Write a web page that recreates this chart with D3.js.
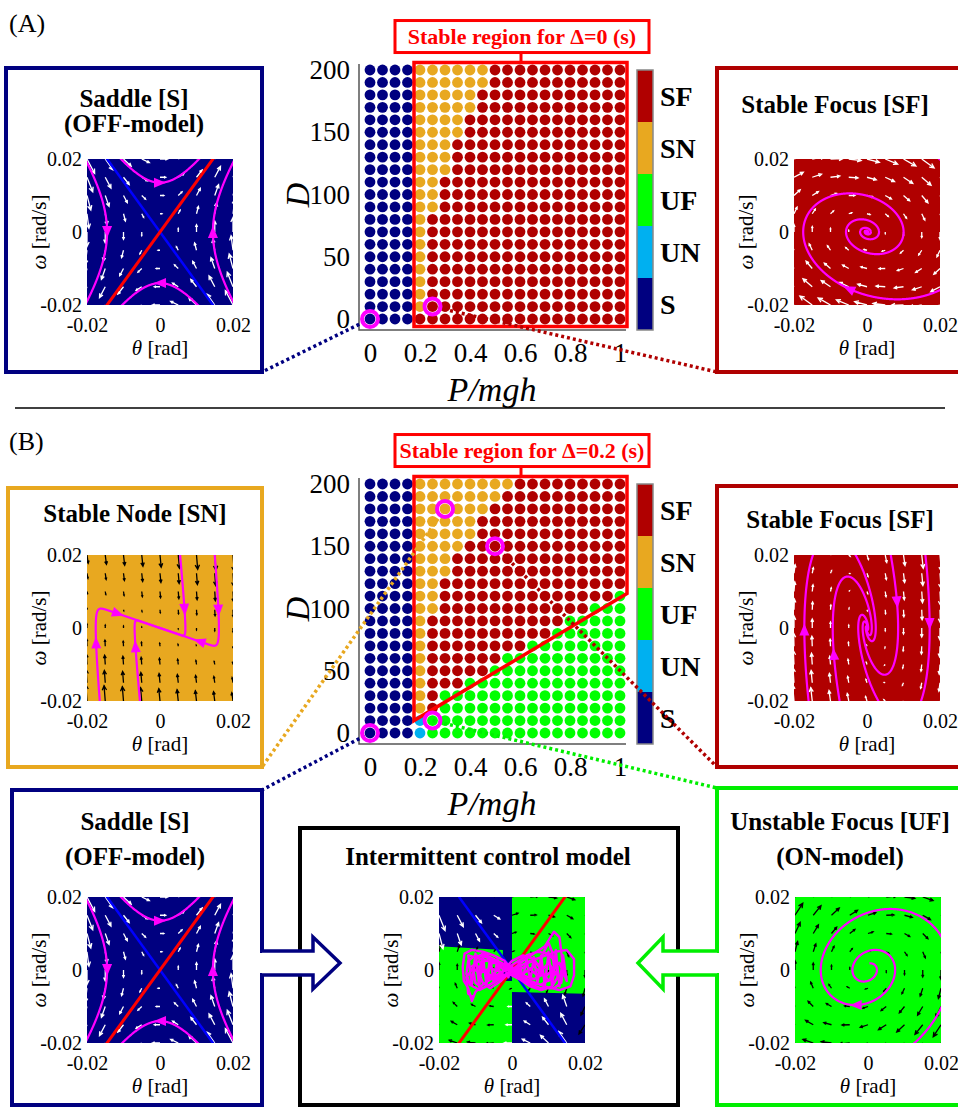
<!DOCTYPE html>
<html lang="en">
<head>
<meta charset="UTF-8" />
<title>Stability regions of the intermittent control model</title>
<script src="https://d3js.org/d3.v7.min.js"></script>
<style>
  body { margin: 0; background: #fff; }
</style>
</head>
<body>
<script>
var w = 958, h = 1109;
var serif = '"Liberation Serif", "Times New Roman", serif';

// ---- stability maps: rows go from D=200 (top) down to D=0, columns P/mgh = 0 ... 1
var pValues = [0, 0.05, 0.1, 0.15, 0.2, 0.25, 0.3, 0.35, 0.4, 0.45, 0.5,
               0.55, 0.6, 0.65, 0.7, 0.75, 0.8, 0.85, 0.9, 0.95, 1];
var dValues = [200, 190, 180, 170, 160, 150, 140, 130, 120, 110, 100,
               90, 80, 70, 60, 50, 40, 30, 20, 10, 0];
// S = saddle, V = unstable node, U = unstable focus, N = stable node, F = stable focus
var typeCodes = ["S", "V", "U", "N", "F"];
var typeLabels = ["S", "UN", "UF", "SN", "SF"];
var typeColors = ["#000080", "#00b0f0", "#00ff00", "#e8a820", "#b00000"];

var mapA = [
  "SSSSNNNNNNFFFFFFFFFFF",
  "SSSSNNNNNNFFFFFFFFFFF",
  "SSSSNNNNNFFFFFFFFFFFF",
  "SSSSNNNNNFFFFFFFFFFFF",
  "SSSSNNNNFFFFFFFFFFFFF",
  "SSSSNNNNFFFFFFFFFFFFF",
  "SSSSNNNFFFFFFFFFFFFFF",
  "SSSSNNNFFFFFFFFFFFFFF",
  "SSSSNNNFFFFFFFFFFFFFF",
  "SSSSNNFFFFFFFFFFFFFFF",
  "SSSSNNFFFFFFFFFFFFFFF",
  "SSSSNNFFFFFFFFFFFFFFF",
  "SSSSNFFFFFFFFFFFFFFFF",
  "SSSSNFFFFFFFFFFFFFFFF",
  "SSSSNFFFFFFFFFFFFFFFF",
  "SSSSNFFFFFFFFFFFFFFFF",
  "SSSSNFFFFFFFFFFFFFFFF",
  "SSSSNFFFFFFFFFFFFFFFF",
  "SSSSNFFFFFFFFFFFFFFFF",
  "SSSSNFFFFFFFFFFFFFFFF",
  "SSSSFFFFFFFFFFFFFFFFF"
];
var mapB = [
  "SSSSNNNNNNNNFFFFFFFFF",
  "SSSSNNNNNNNFFFFFFFFFF",
  "SSSSNNNNNNFFFFFFFFFFF",
  "SSSSNNNNNFFFFFFFFFFFF",
  "SSSSNNNNNFFFFFFFFFFFF",
  "SSSSNNNNFFFFFFFFFFFFF",
  "SSSSNNNFFFFFFFFFFFFFF",
  "SSSSNNNFFFFFFFFFFFFFF",
  "SSSSNNFFFFFFFFFFFFFFF",
  "SSSSNNFFFFFFFFFFFFFFU",
  "SSSSNNFFFFFFFFFFFFUUU",
  "SSSSNFFFFFFFFFFFUUUUU",
  "SSSSNFFFFFFFFFFUUUUUU",
  "SSSSNFFFFFFFFUUUUUUUU",
  "SSSSNFFFFFFUUUUUUUUUU",
  "SSSSNFFFFFUUUUUUUUUUU",
  "SSSSNFFFUUUUUUUUUUUUU",
  "SSSSNFUUUUUUUUUUUUUUU",
  "SSSSNFUUUUUUUUUUUUUUU",
  "SSSSVUUUUUUUUUUUUUUUU",
  "SSSSVUUUUUUUUUUUUUUUU"
];
var pTicks = [0, 0.2, 0.4, 0.6, 0.8, 1];
var pTickLabels = ["0", "0.2", "0.4", "0.6", "0.8", "1"];
var dTicks = [0, 50, 100, 150, 200];
var dTickLabels = ["0", "50", "100", "150", "200"];
// outlines of the stable regions, [P/mgh, D]
var stableA = [[0.176, -6], [0.176, 206], [1.028, 206], [1.028, -6]];
var stableB = [[0.176, 10], [0.176, 206], [1.028, 206], [1.028, 112]];
var ringsA = [[0, 0], [0.25, 10]];
var ringsB = [[0, 0], [0.25, 10], [0.3, 180], [0.5, 150]];

// ---- phase portraits: linear systems d/dt [theta, omega] = M [theta, omega]
var saddleM = [[0, 1], [1.9, 0]];
var focusAM = [[0, 1], [-0.6, -0.27]];
var nodeBM = [[0, 1], [-3.4, -10.34]];
var focusBM = [[0, 1], [-8, -3]];
var onM = [[0, 1], [-0.9, 0.33]];
var manifoldSlopes = [1.378, -1.378];   // unstable (red), stable (blue)
var phaseTicks = [-0.02, 0, 0.02];
var phaseTickLabels = ["-0.02", "0", "0.02"];
var quiverGrid = [-0.02, -0.015, -0.01, -0.005, 0, 0.005, 0.01, 0.015, 0.02];

// trajectory starting points [theta, omega] and where the arrow heads sit
var saddleStarts = [[0, 0.0135], [0, -0.014], [-0.0145, 0], [0.0145, 0]];
var saddleHeads = [[0, 0.0135], [0, -0.014], [-0.0145, 0], [0.0145, 0]];
var focusAStarts = [[0.0186, 0.021]];
var focusAHeads = [[-0.005, -0.0155]];
var nodeBStarts = [[0.0055, 0.02], [0.015, 0.02], [-0.0055, -0.02], [-0.0165, -0.02]];
var nodeBHeads = [[0.0065, 0.005], [0.0165, 0.005], [-0.0175, -0.004], [-0.0075, -0.005],
                  [-0.0115, 0.0038], [0.0105, -0.0045]];
var focusBStarts = [[0.016, 0.02], [0.0065, 0.02], [-0.016, -0.02], [-0.0075, -0.02]];
var focusBHeads = [[0.0168, 0.001], [0.0069, 0.0069], [-0.0166, -0.0007], [-0.0072, -0.0072]];
var onStarts = [[0.0004, 0.0018]];
var onHeads = [[-0.0033, -0.0127]];

// intermittent model (values in mrad, mrad/s): OFF regions and the traced trajectory
var offTopLeft = [[-20, 20], [0, 20], [0, -3], [-2.5, -3], [-2.5, 5.5], [-20, 6.5]];
var offBottomRight = [[0, -20], [20, -20], [20, -6.5], [0, -6]];
var icTrace = [
  [0, 0], [-2, 2.5], [-5, 4], [-8, 5], [-11, 5.5], [-13, 4.5], [-13.5, 1], [-13.2, -3], [-12, -5],
  [-11, -8.5], [-10, -6], [-8, -4], [-5, -2], [-2, 0], [1, 2], [4, 4], [7, 5], [10, 4.5], [12, 2],
  [12.5, -2], [11, -4.5], [8, -5.5], [5, -4.5], [2, -2.5], [-1, -1], [-4, 1.5], [-7, 3.5], [-10, 4],
  [-12, 2.5], [-12.5, -1], [-11.5, -4], [-9, -5.5], [-6, -4], [-3, -2], [0, 0], [3, 2.5], [6, 4.5],
  [9, 6.5], [11.5, 10.5], [13, 9], [13.5, 5], [14, 0], [13.5, -3.5], [11.5, -5], [8, -5], [4, -3.5],
  [1, -1.5], [-2, 1], [-5, 3], [-8, 4.5], [-10, 3], [-10.5, -0.5], [-10, -3.5], [-8, -5], [-5, -3.5],
  [-2, -1.5], [1, 0.5], [4, 2], [8, 3.5], [12, 5], [15, 5.5], [17, 3], [17, -1.5], [16, -4.5],
  [13, -5.5], [9, -4.5], [5, -3], [2, -1.5], [-1, 0], [-3, 2], [-6, 3], [-8.5, 2], [-9, -1],
  [-8, -3.5], [-6, -5], [-3, -3], [-1, -1], [2, 1], [5, 2.5], [8, 3.5], [10, 7.5], [11, 5],
  [11.5, 1], [10.5, -2.5], [8, -4], [5, -3.5], [2, -2], [0, 0], [-2, 1.5], [-4, 2.5], [-6, 1.5],
  [-6.5, -1], [-5, -2.5], [-2, -1.5], [0, 0], [3, 1.5], [6, 2.5], [8, 1], [8, -1.5], [6, -2.5],
  [3, -1.5], [0, 0.5], [-12, 4], [-11, -4], [-10, 4.5], [-9, -4.5], [-8, 4], [-7, -4], [-6, 3.5],
  [-5, -3.5], [-4, 3], [-3, -3], [-2, 2], [-1, -2], [0, 1], [1, -1.5], [2, 2.5], [3, -2.5], [4, 3],
  [5, -3], [6, 3.5], [7, -3.5], [8, 4], [9, -4.5], [10, 5], [11, -5], [12, 5.5], [13, -4.5], [14, 4],
  [15, -3], [13, 2], [9, -2], [6, 1], [3, -1], [1, 0.5], [-3, -0.5], [-6, 0.5], [-9, -1], [-11, 1],
  [-9, 2.5], [-6, -2.5], [-3, 1.5], [0, -0.5], [4, 1], [7, -1.5], [10, 2], [12, -1], [10, -3],
  [6, 3], [3, 4], [0, 2.5], [-4, -2], [-7, -1], [-10, 1.5], [-12.5, -2], [-12, -6.5], [-10.5, -7.5]
];

var svg = d3.select("body").append("svg")
  .attr("width", w).attr("height", h)
  .attr("font-family", serif);

function field(M) {
  return function (th, om) {
    return [M[0][0] * th + M[0][1] * om, M[1][0] * th + M[1][1] * om];
  };
}

// RK4 integration of a linear system, stops once well outside the plot
function simulate(M, p0, tEnd) {
  var f = field(M), dt = tEnd < 0 ? -0.005 : 0.005;
  var n = Math.round(Math.abs(tEnd) / 0.005), p = p0.slice(), out = [p0.slice()];
  for (var i = 0; i < n; i++) {
    var k1 = f(p[0], p[1]);
    var k2 = f(p[0] + dt / 2 * k1[0], p[1] + dt / 2 * k1[1]);
    var k3 = f(p[0] + dt / 2 * k2[0], p[1] + dt / 2 * k2[1]);
    var k4 = f(p[0] + dt * k3[0], p[1] + dt * k3[1]);
    p = [p[0] + dt / 6 * (k1[0] + 2 * k2[0] + 2 * k3[0] + k4[0]),
         p[1] + dt / 6 * (k1[1] + 2 * k2[1] + 2 * k3[1] + k4[1])];
    out.push(p);
    if (Math.abs(p[0]) > 0.06 || Math.abs(p[1]) > 0.06) break;
  }
  return out;
}

function trajectory(M, p0, back, fwd) {
  var b = back > 0 ? simulate(M, p0, -back).reverse() : [];
  return b.concat(simulate(M, p0, fwd));
}

// ---------------- stability maps ----------------
function stabilityMap(rows, stable, dy, label) {
  var g = svg.append("g");
  var x = d3.scaleLinear().domain([0, 1]).range([370, 620]);
  var y = d3.scaleLinear().domain([0, 200]).range([319 + dy, 70 + dy]);

  g.append("path")
    .attr("d", "M359," + (64 + dy) + "V" + (330 + dy) + "H626")
    .attr("fill", "none").attr("stroke", "#555").attr("stroke-width", 1.5);

  var cells = [];
  rows.forEach(function (row, i) {
    row.split("").forEach(function (c, j) {
      cells.push({ p: pValues[j], d: dValues[i], c: c });
    });
  });
  g.selectAll("circle.dot").data(cells).enter().append("circle")
    .attr("class", "dot")
    .attr("cx", function (d) { return x(d.p); })
    .attr("cy", function (d) { return y(d.d); })
    .attr("r", 5.4)
    .attr("fill", function (d) { return typeColors[typeCodes.indexOf(d.c)]; });

  g.append("path")
    .attr("d", d3.line().x(function (d) { return x(d[0]); }).y(function (d) { return y(d[1]); })(stable) + "Z")
    .attr("fill", "none").attr("stroke", "#ff0000").attr("stroke-width", 3.5);

  // label box on top of the region
  var top = y(stable[1][1]);
  g.append("line").attr("x1", 521).attr("x2", 521).attr("y1", top - 12).attr("y2", top)
    .attr("stroke", "#ff0000").attr("stroke-width", 3);
  g.append("rect").attr("x", 395).attr("y", top - 42).attr("width", 254).attr("height", 32)
    .attr("fill", "#fff").attr("stroke", "#ff0000").attr("stroke-width", 3);
  g.append("text").attr("x", 522).attr("y", top - 19).attr("text-anchor", "middle")
    .attr("font-size", 22).attr("font-weight", "bold").attr("fill", "#ff0000").text(label);

  var xa = g.append("g").attr("transform", "translate(0," + (330 + dy) + ")")
    .call(d3.axisBottom(x).tickValues(pTicks).tickSize(0).tickPadding(13)
      .tickFormat(function (d, i) { return pTickLabels[i]; }));
  var ya = g.append("g").attr("transform", "translate(359,0)")
    .call(d3.axisLeft(y).tickValues(dTicks).tickSize(0).tickPadding(9)
      .tickFormat(function (d, i) { return dTickLabels[i]; }));
  [xa, ya].forEach(function (a) {
    a.attr("font-family", serif).attr("font-size", 27);
    a.select(".domain").remove();
    a.selectAll("text").attr("fill", "#000");
  });

  g.append("text").attr("x", 492).attr("y", 401 + dy).attr("text-anchor", "middle")
    .attr("font-size", 34).attr("font-style", "italic").text("P/mgh");
  g.append("text").attr("transform", "translate(297," + (195 + dy) + ") rotate(-90)")
    .attr("text-anchor", "middle").attr("dy", "0.35em")
    .attr("font-size", 34).attr("font-style", "italic").text("D");

  // colour bar, top to bottom SF ... S
  var order = typeLabels.slice().reverse();
  var cb = d3.scaleBand().domain(order).range([70 + dy, 330 + dy]);
  g.selectAll("rect.cb").data(order).enter().append("rect")
    .attr("x", 637).attr("width", 16)
    .attr("y", function (d) { return cb(d); }).attr("height", cb.bandwidth())
    .attr("fill", function (d) { return typeColors[typeLabels.indexOf(d)]; });
  g.append("rect").attr("x", 637).attr("y", 70 + dy).attr("width", 16).attr("height", 260)
    .attr("fill", "none").attr("stroke", "#888").attr("stroke-width", 1.5);
  g.selectAll("text.cb").data(order).enter().append("text")
    .attr("x", 660).attr("y", function (d) { return cb(d) + cb.bandwidth() / 2; })
    .attr("dy", "0.35em").attr("font-size", 28).attr("font-weight", "bold").text(function (d) { return d; });

  return { x: x, y: y };
}

function connector(sc, pt, corner, color) {
  svg.append("line")
    .attr("x1", sc.x(pt[0])).attr("y1", sc.y(pt[1]))
    .attr("x2", corner[0]).attr("y2", corner[1])
    .attr("stroke", color).attr("stroke-width", 3.5).attr("stroke-dasharray", "3 3");
}

function rings(sc, pts) {
  svg.selectAll(null).data(pts).enter().append("circle")
    .attr("cx", function (d) { return sc.x(d[0]); })
    .attr("cy", function (d) { return sc.y(d[1]); })
    .attr("r", 8).attr("fill", "none").attr("stroke", "#ff00ff").attr("stroke-width", 4);
}

// ---------------- phase portraits ----------------
var clipCount = 0;
function phasePanel(cfg) {
  var g = svg.append("g");
  var b = cfg.box;
  g.append("rect").attr("x", b[0]).attr("y", b[1]).attr("width", b[2] - b[0]).attr("height", b[3] - b[1])
    .attr("fill", "none").attr("stroke", cfg.color).attr("stroke-width", 4);
  cfg.titles.forEach(function (t) {
    g.append("text").attr("x", cfg.cx).attr("y", t[1]).attr("text-anchor", "middle")
      .attr("font-size", 25).attr("font-weight", "bold").text(t[0]);
  });

  var x0 = cfg.plot[0], y0 = cfg.plot[1], s = 146;
  var x = d3.scaleLinear().domain([-0.02, 0.02]).range([x0, x0 + s]);
  var y = d3.scaleLinear().domain([-0.02, 0.02]).range([y0 + s, y0]);
  var id = "clip" + (clipCount++);
  g.append("clipPath").attr("id", id).append("rect")
    .attr("x", x0).attr("y", y0).attr("width", s).attr("height", s);
  var inner = g.append("g").attr("clip-path", "url(#" + id + ")");
  cfg.background(inner, x, y);

  // quiver, arrow length scaled by the largest vector
  var items = [];
  quiverGrid.forEach(function (th) {
    quiverGrid.forEach(function (om) {
      var f = cfg.arrows(th, om);
      items.push({ th: th, om: om, v: f.v, color: f.color });
    });
  });
  var kx = x(1) - x(0), ky = y(1) - y(0);
  var maxLen = d3.max(items, function (d) { return Math.hypot(d.v[0] * kx, d.v[1] * ky); });
  var sc = 0.9 * (x(quiverGrid[1]) - x(quiverGrid[0])) / maxLen;
  inner.selectAll(null).data(items).enter().append("path")
    .attr("d", function (d) {
      var x1 = x(d.th), y1 = y(d.om), dx = d.v[0] * kx * sc, dy = d.v[1] * ky * sc;
      var L = Math.hypot(dx, dy);
      if (L < 0.5) return "";
      var x2 = x1 + dx, y2 = y1 + dy, a = Math.atan2(dy, dx), hl = Math.min(0.35 * L, 5), sp = 0.45;
      return "M" + x1 + "," + y1 + "L" + x2 + "," + y2 +
        "M" + (x2 - hl * Math.cos(a - sp)) + "," + (y2 - hl * Math.sin(a - sp)) +
        "L" + x2 + "," + y2 +
        "L" + (x2 - hl * Math.cos(a + sp)) + "," + (y2 - hl * Math.sin(a + sp));
    })
    .attr("fill", "none").attr("stroke", function (d) { return d.color; }).attr("stroke-width", 1.3);

  if (cfg.manifolds) {
    [1, 0].forEach(function (i) {
      var m = manifoldSlopes[i];
      inner.append("line")
        .attr("x1", x(-0.03)).attr("y1", y(-0.03 * m)).attr("x2", x(0.03)).attr("y2", y(0.03 * m))
        .attr("stroke", i === 0 ? "#ff0000" : "#0000ff").attr("stroke-width", i === 0 ? 3 : 2.5);
    });
  }

  var line = d3.line().x(function (d) { return x(d[0]); }).y(function (d) { return y(d[1]); });
  (cfg.paths || []).forEach(function (p) {
    inner.append("path").attr("d", line(p)).attr("fill", "none")
      .attr("stroke", "#ff00ff").attr("stroke-width", cfg.pathWidth || 2.2).attr("stroke-linejoin", "round");
  });

  // arrow heads: nearest path point, oriented along the flow
  (cfg.heads || []).forEach(function (pt) {
    var best = null, bd = Infinity;
    cfg.paths.forEach(function (p) {
      p.forEach(function (q) {
        var d = Math.hypot(q[0] - pt[0], q[1] - pt[1]);
        if (d < bd) { bd = d; best = q; }
      });
    });
    var v = cfg.flow(best[0], best[1]);
    var dx = v[0] * kx, dy = v[1] * ky, L = Math.hypot(dx, dy);
    dx /= L; dy /= L;
    var cx = x(best[0]), cy = y(best[1]);
    var pts = [[cx + dx * 6, cy + dy * 6],
               [cx - dx * 6 - dy * 5, cy - dy * 6 + dx * 5],
               [cx - dx * 6 + dy * 5, cy - dy * 6 - dx * 5]];
    inner.append("path").attr("d", "M" + pts.join("L") + "Z").attr("fill", "#ff00ff");
  });

  var xa = g.append("g").attr("transform", "translate(0," + (y0 + s) + ")")
    .call(d3.axisBottom(x).tickValues(phaseTicks).tickSize(0).tickPadding(13)
      .tickFormat(function (d, i) { return phaseTickLabels[i]; }));
  var ya = g.append("g").attr("transform", "translate(" + x0 + ",0)")
    .call(d3.axisLeft(y).tickValues(phaseTicks).tickSize(0).tickPadding(5)
      .tickFormat(function (d, i) { return phaseTickLabels[i]; }));
  [xa, ya].forEach(function (a) {
    a.attr("font-family", serif).attr("font-size", 20);
    a.select(".domain").remove();
    a.selectAll("text").attr("fill", "#000");
  });

  var tl = g.append("text").attr("x", x0 + s / 2).attr("y", y0 + s + 50)
    .attr("text-anchor", "middle").attr("font-size", 21);
  tl.append("tspan").attr("font-style", "italic").text("\u03b8");
  tl.append("tspan").text(" [rad]");
  var wl = g.append("text").attr("transform", "translate(" + (x0 - 48) + "," + (y0 + s / 2) + ") rotate(-90)")
    .attr("text-anchor", "middle").attr("dy", "0.35em").attr("font-size", 21);
  wl.append("tspan").attr("font-style", "italic").text("\u03c9");
  wl.append("tspan").text(" [rad/s]");
}

function solidBg(color) {
  return function (g, x, y) {
    g.append("rect").attr("x", x(-0.02)).attr("y", y(0.02))
      .attr("width", x(0.02) - x(-0.02)).attr("height", y(-0.02) - y(0.02)).attr("fill", color);
  };
}
function uniform(M, color) {
  var f = field(M);
  return function (th, om) { return { v: f(th, om), color: color }; };
}
function paths(M, starts, back, fwd) {
  return starts.map(function (p) { return trajectory(M, p, back, fwd); });
}

function saddlePanel(box, titles, cx, plot) {
  phasePanel({
    box: box, color: "#000080", titles: titles, cx: cx, plot: plot,
    background: solidBg("#000080"), arrows: uniform(saddleM, "#ffffff"), manifolds: true,
    paths: paths(saddleM, saddleStarts, 1.5, 1.5), heads: saddleHeads, flow: field(saddleM)
  });
}

// ---------------- panel (A) ----------------
svg.append("text").attr("x", 9).attr("y", 32).attr("font-size", 26).text("(A)");
var scA = stabilityMap(mapA, stableA, 0, "Stable region for \u0394=0 (s)");
saddlePanel([6, 68, 262, 372], [["Saddle [S]", 107], ["(OFF-model)", 132]], 134, [87, 159]);
phasePanel({
  box: [717, 68, 974, 372], color: "#b00000", titles: [["Stable Focus [SF]", 113]], cx: 835, plot: [794, 159],
  background: solidBg("#b00000"), arrows: uniform(focusAM, "#ffffff"),
  paths: paths(focusAM, focusAStarts, 0, 60), heads: focusAHeads, flow: field(focusAM)
});
connector(scA, ringsA[0], [262, 372], "#000080");
connector(scA, ringsA[1], [717, 372], "#b00000");
rings(scA, ringsA);

svg.append("line").attr("x1", 15).attr("x2", 945).attr("y1", 408).attr("y2", 408)
  .attr("stroke", "#000").attr("stroke-width", 1.5);

// ---------------- panel (B) ----------------
svg.append("text").attr("x", 9).attr("y", 450).attr("font-size", 26).text("(B)");
var scB = stabilityMap(mapB, stableB, 414, "Stable region for \u0394=0.2 (s)");
phasePanel({
  box: [8, 488, 262, 767], color: "#e8a820", titles: [["Stable Node [SN]", 522]], cx: 135, plot: [87, 555],
  background: solidBg("#e8a820"), arrows: uniform(nodeBM, "#000000"),
  paths: paths(nodeBM, nodeBStarts, 0, 25), heads: nodeBHeads, flow: field(nodeBM)
});
phasePanel({
  box: [717, 486, 974, 767], color: "#b00000", titles: [["Stable Focus [SF]", 528]], cx: 840, plot: [794, 555],
  background: solidBg("#b00000"), arrows: uniform(focusBM, "#ffffff"),
  paths: paths(focusBM, focusBStarts, 0, 15), heads: focusBHeads, flow: field(focusBM)
});
saddlePanel([12, 790, 262, 1105], [["Saddle [S]", 830], ["(OFF-model)", 865]], 135, [87, 897]);

// intermittent control model: OFF (saddle) and ON (unstable focus) regions
var offPolys = [offTopLeft, offBottomRight];
function isOff(th, om) {
  return offPolys.some(function (poly) { return d3.polygonContains(poly, [th * 1000, om * 1000]); });
}
var saddleF = field(saddleM), onF = field(onM);
phasePanel({
  box: [300, 828, 678, 1105], color: "#000", titles: [["Intermittent control model", 865]], cx: 488, plot: [439, 897],
  background: function (g, x, y) {
    solidBg("#00ff00")(g, x, y);
    var line = d3.line().x(function (d) { return x(d[0] / 1000); }).y(function (d) { return y(d[1] / 1000); });
    offPolys.forEach(function (poly) {
      g.append("path").attr("d", line(poly) + "Z").attr("fill", "#000080");
    });
  },
  arrows: function (th, om) {
    var off = isOff(th, om);
    return { v: off ? saddleF(th, om) : onF(th, om), color: off ? "#ffffff" : "#000000" };
  },
  manifolds: true,
  paths: [icTrace.map(function (d) { return [d[0] / 1000, d[1] / 1000]; })], pathWidth: 2.4
});
phasePanel({
  box: [717, 788, 974, 1105], color: "#00ee00", titles: [["Unstable Focus [UF]", 830], ["(ON-model)", 865]],
  cx: 840, plot: [795, 897],
  background: solidBg("#00ff00"), arrows: uniform(onM, "#000000"),
  paths: paths(onM, onStarts, 0, 25), heads: onHeads, flow: field(onM)
});

// hollow arrows feeding the intermittent model
svg.append("rect").attr("x", 258).attr("y", 953).attr("width", 8).attr("height", 20).attr("fill", "#fff");
svg.append("path").attr("d", "M262,951L313,951L313,937L340,963L313,989L313,975L262,975")
  .attr("fill", "#fff").attr("stroke", "#000080").attr("stroke-width", 3.5);
svg.append("rect").attr("x", 713).attr("y", 953).attr("width", 8).attr("height", 20).attr("fill", "#fff");
svg.append("path").attr("d", "M717,951L663,951L663,937L638,963L663,989L663,975L717,975")
  .attr("fill", "#fff").attr("stroke", "#00ee00").attr("stroke-width", 3.5);

connector(scB, ringsB[2], [262, 767], "#e8a820");
connector(scB, ringsB[3], [717, 767], "#b00000");
connector(scB, ringsB[0], [262, 790], "#000080");
connector(scB, ringsB[1], [717, 788], "#00ee00");
rings(scB, ringsB);
</script>
</body>
</html>
